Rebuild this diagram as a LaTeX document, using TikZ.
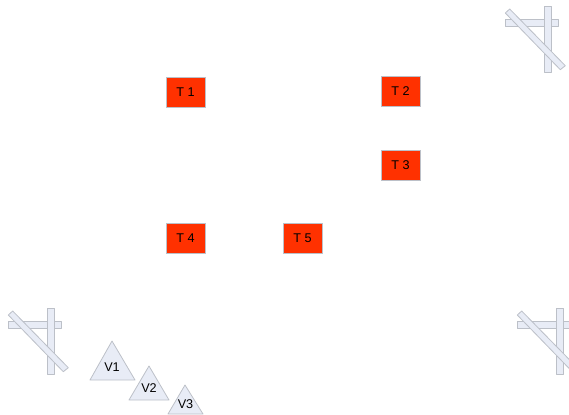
\documentclass[tikz,border=0pt]{standalone}
\usepackage{fontspec}
\setmainfont{Liberation Sans}
\usepackage{xcolor}
\definecolor{tablered}{HTML}{FF3100}
\definecolor{barfill}{HTML}{E8ECF6}
\definecolor{baredge}{HTML}{BCC0C8}
\usetikzlibrary{positioning}

\begin{document}
\begin{tikzpicture}[
      x=0.75pt, y=-0.75pt,
      tablebox/.style={rectangle, draw=baredge, fill=tablered, minimum width=29.25pt, minimum height=22.5pt,
                  align=center, font=\fontsize{9.5}{10}\selectfont, inner sep=0pt, line width=0.4pt},
      bar/.style={draw=baredge, fill=barfill, line width=0.6pt, line join=round},
      viewer/.style={font=\fontsize{9.5}{10}\selectfont, inner sep=0pt},
    ]
    \clip (0,0) rectangle (569,415);

    \node[tablebox] (t1) at (185.5, 92)    {T 1};
    \node[tablebox] (t2) at (400.5, 91.5)  {T 2};
    \node[tablebox] (t3) at (400.5, 165)   {T 3};
    \node[tablebox] (t4) at (185.5, 238.5) {T 4};
    \node[tablebox] (t5) at (302.5, 238.5) {T 5};

    % Crossed bars in three corners
    \foreach \dx/\dy in {0/0, 497/-302, 509/0} {
      \begin{scope}[shift={(\dx,\dy)}]
        \draw[bar] (8.3,321.5) rectangle (61,328.5);
        \draw[bar] (47.5,308) rectangle (54.5,374);
        \draw[bar] (8.3,315) -- (12.7,311) -- (68.3,367.7) -- (63.3,371.7) -- cycle;
      \end{scope}
    }

    % Triangles
    \draw[bar] (112,341) -- (135,380) -- (90,380) -- cycle;
    \draw[bar] (149,366) -- (169,400) -- (129,400) -- cycle;
    \draw[bar] (185,385) -- (203,414) -- (168,414) -- cycle;
    \node[viewer] (v1) at (112,367.5) {V1};
    \node[viewer] (v2) at (149,388)   {V2};
    \node[viewer] (v3) at (185.5,404.5) {V3};
  \end{tikzpicture}
\end{document}
